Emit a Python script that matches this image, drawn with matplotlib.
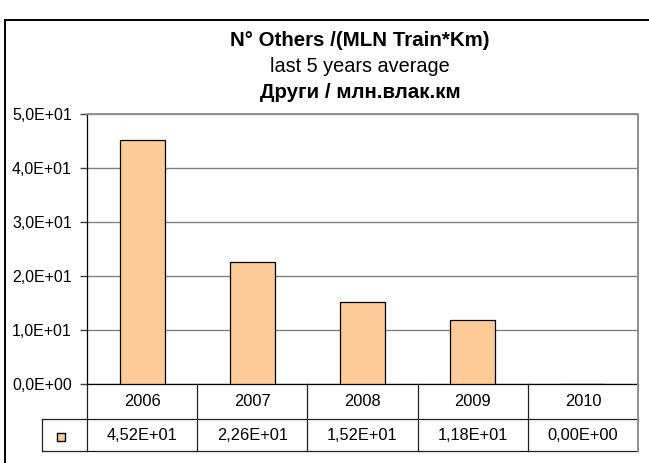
import matplotlib
matplotlib.use("Agg")
import matplotlib.pyplot as plt
from matplotlib.patches import Rectangle
from matplotlib.lines import Line2D
import matplotlib.transforms as mtransforms

years = ["2006", "2007", "2008", "2009", "2010"]
values = [45.2, 22.6, 15.2, 11.8, 0.0]
value_labels = ["4,52E+01", "2,26E+01", "1,52E+01", "1,18E+01", "0,00E+00"]
yticks = [0, 10, 20, 30, 40, 50]
ytick_labels = ["0,0E+00", "1,0E+01", "2,0E+01", "3,0E+01", "4,0E+01", "5,0E+01"]
title_lines = ["N° Others /(MLN Train*Km)", "last 5 years average", "Други / млн.влак.км"]

plt.rcParams['font.family'] = ['Liberation Sans', 'DejaVu Sans']

W, H = 649, 463
fig = plt.figure(figsize=(W / 100, H / 100), dpi=100)

def fx(px):
    return px / W

def fy(py):
    return 1 - py / H

# outer frame
fig.add_artist(Line2D([fx(5), fx(5)], [fy(20), fy(470)], color='black', lw=1.4))
fig.add_artist(Line2D([fx(5), fx(660)], [fy(20), fy(20)], color='black', lw=1.4))

L, R, T, B = 87, 638, 114, 384
ax = fig.add_axes([fx(L), fy(B), fx(R) - fx(L), (B - T) / H])
ax.bar(range(len(years)), values, width=0.41, color='#FFCC99', edgecolor='black', linewidth=0.9, zorder=3)
ax.set_xlim(-0.5, len(years) - 0.5)
ax.set_ylim(0, 50)
ax.set_yticks(yticks)
ax.set_yticklabels(ytick_labels, fontsize=11.5)
ax.set_xticks([])
ax.yaxis.grid(True, color='#808080', lw=1.0, zorder=0)
ax.tick_params(axis='y', length=5, width=1.0, color='#404040', pad=6)
for s in ['top', 'right']:
    ax.spines[s].set_color('#909090')
    ax.spines[s].set_linewidth(1.4)
ax.spines['left'].set_color('black')
ax.spines['bottom'].set_color('black')
ax.spines['left'].set_linewidth(0.9)
ax.spines['bottom'].set_linewidth(0.9)

# title
tx = 360
fig.text(fx(tx), fy(40), title_lines[0], ha='center', va='center', fontsize=14.8, fontweight='bold')
fig.text(fx(tx), fy(67), title_lines[1], ha='center', va='center', fontsize=14.3)
fig.text(fx(tx), fy(93), title_lines[2], ha='center', va='center', fontsize=14.8, fontweight='bold')

# data table below the axis
tr = mtransforms.blended_transform_factory(ax.transData, fig.transFigure)
row1, row2, row3 = 384, 419, 451
lc = '#202020'
fig.add_artist(Line2D([fx(42), fx(R)], [fy(row2), fy(row2)], color=lc, lw=0.9))
fig.add_artist(Line2D([fx(42), fx(R)], [fy(row3), fy(row3)], color=lc, lw=0.9))
fig.add_artist(Line2D([fx(42), fx(42)], [fy(row2), fy(row3)], color=lc, lw=0.9))
fig.add_artist(Line2D([fx(L), fx(L)], [fy(row1), fy(row3)], color=lc, lw=0.9))
fig.add_artist(Line2D([fx(R), fx(R)], [fy(T), fy(row3)], color='#909090', lw=1.4))
for i in range(1, len(years)):
    fig.add_artist(Line2D([i - 0.5, i - 0.5], [fy(row1), fy(row3)], color=lc, lw=0.9, transform=tr))
for i, (yr, vl) in enumerate(zip(years, value_labels)):
    fig.text(i, fy((row1 + row2) / 2), yr, transform=tr, ha='center', va='center', fontsize=11.8)
    fig.text(i, fy((row2 + row3) / 2), vl, transform=tr, ha='center', va='center', fontsize=11.8)

# legend key
fig.add_artist(Rectangle((fx(57), fy(441)), fx(8), 8 / H, facecolor='#FFCC99', edgecolor='black', lw=1.0))

fig.savefig("out.png", dpi=100)
